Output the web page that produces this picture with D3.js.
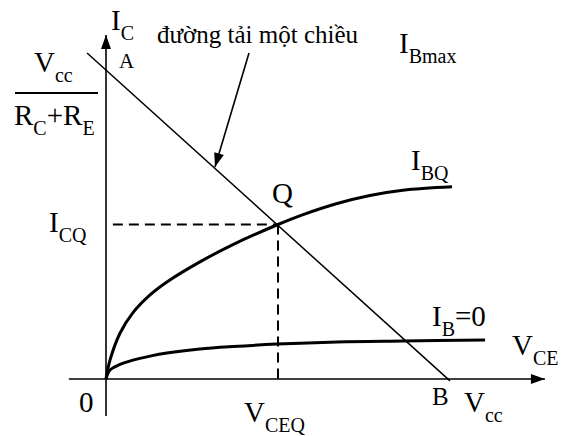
<!DOCTYPE html>
<html><head><meta charset="utf-8">
<script src="https://cdn.jsdelivr.net/npm/d3@7"></script>
<style>
@font-face { font-family: "ChartSerif"; src: local("Liberation Serif"), local("LiberationSerif"), local("Liberation Serif Regular"), local("LiberationSerif-Regular"), local("Times New Roman"); }
</style>
</head><body style="margin:0">
<script>
// data (arbitrary units: VCE 0..Vcc=10, IC 0..Vcc/(Rc+Re)=10)
const ibqVce = [0, 0.116, 0.41, 0.78, 1.28, 1.77, 2.73, 3.69, 5.0, 5.73, 6.72, 7.67, 8.63, 10.06];
const ibqIc  = [0, 0.61, 1.49, 2.14, 2.72, 3.14, 3.79, 4.35, 5.0, 5.32, 5.68, 5.94, 6.11, 6.22];
const ib0Vce = [0, 0.116, 0.41, 0.78, 1.28, 1.77, 2.73, 3.69, 4.97, 6.72, 8.63, 11.02];
const ib0Ic  = [0, 0.29, 0.47, 0.61, 0.74, 0.84, 0.97, 1.05, 1.13, 1.20, 1.23, 1.26];
const loadVce = [-0.55, 10.0];
const loadIc  = [10.55, -0.06];
const qPoint = [5.0, 5.0];
const xAxisExtent = [-1.08, 12.76];
const yAxisExtent = [-1.2, 11.13];

const W = 563, H = 436;
const x = d3.scaleLinear().domain([0, 10]).range([106, 450]);
const y = d3.scaleLinear().domain([0, 10]).range([379, 70]);
const FONT = '"Liberation Serif", ChartSerif, "Times New Roman", serif';

const svg = d3.select("body").append("svg").attr("width", W).attr("height", H);

function txt(px, py, size){
  return svg.append("text").attr("x",px).attr("y",py).attr("font-size",size)
    .style("font-family", FONT);
}
function lab(px, py, main, sub, size, subSize, rest){
  const t = txt(px, py, size);
  t.append("tspan").text(main);
  if (sub){ t.append("tspan").attr("font-size",subSize).attr("dy",10).text(sub); }
  if (rest){ t.append("tspan").attr("dy",-10).text(rest); }
  return t;
}
const M = 29, S = 20;
lab(111, 30, "I", "C", M, S);
lab(119, 68, "A", null, 21);
txt(157, 43, 25).text("đường tải một chiều");
lab(399, 53, "I", "Bmax", M, S);
lab(34, 72, "V", "cc", M, S);
const den = txt(14, 125, M);
den.append("tspan").text("R");
den.append("tspan").attr("font-size",S).attr("dy",10).text("C");
den.append("tspan").attr("dy",-10).text("+R");
den.append("tspan").attr("font-size",S).attr("dy",10).text("E");
lab(49, 232, "I", "CQ", M, S);
txt(272, 203, M).text("Q");
lab(411, 170, "I", "BQ", M, S);
lab(432, 326, "I", "B", M, S, "=0");
lab(512, 355, "V", "CE", M, S);
txt(432, 405, 25).text("B");
lab(464, 412, "V", "cc", M, S);
txt(79, 412, M).text("0");
lab(244, 422, "V", "CEQ", M, S);

// arrow helper (line + filled triangle head, no markers)
function arrow(x1, y1, x2, y2, w, headLen, headW){
  svg.append("line").attr("x1",x1).attr("y1",y1).attr("x2",x2).attr("y2",y2)
    .attr("stroke","#000").attr("stroke-width",w);
  const a = Math.atan2(y2-y1, x2-x1);
  const bx = x2 - headLen*Math.cos(a), by = y2 - headLen*Math.sin(a);
  const px = -Math.sin(a)*headW/2, py = Math.cos(a)*headW/2;
  svg.append("path").attr("d", `M${x2},${y2}L${bx+px},${by+py}L${bx-px},${by-py}Z`).attr("fill","#000");
}

// fraction bar
svg.append("line").attr("x1",15).attr("y1",93).attr("x2",98).attr("y2",93).attr("stroke","#000").attr("stroke-width",2);

// axes
arrow(x(xAxisExtent[0]), y(0), x(xAxisExtent[1]), y(0), 1.6, 14, 10);
arrow(x(0), y(yAxisExtent[0]), x(0), y(yAxisExtent[1]), 1.6, 14, 10);

// load line
svg.append("line").attr("x1",x(loadVce[0])).attr("y1",y(loadIc[0])).attr("x2",x(loadVce[1])).attr("y2",y(loadIc[1]))
  .attr("stroke","#000").attr("stroke-width",1.5);

// dashed lines
svg.append("line").attr("x1",x(0.2)).attr("y1",y(qPoint[1])).attr("x2",x(qPoint[0])).attr("y2",y(qPoint[1]))
  .attr("stroke","#000").attr("stroke-width",2).attr("stroke-dasharray","10,6");
svg.append("line").attr("x1",x(qPoint[0])).attr("y1",y(qPoint[1])).attr("x2",x(qPoint[0])).attr("y2",y(0))
  .attr("stroke","#000").attr("stroke-width",2).attr("stroke-dasharray","10,6");

// curves
const lineC = d3.line().x(d=>x(d[0])).y(d=>y(d[1])).curve(d3.curveCatmullRom.alpha(0.5));
svg.append("path").attr("d", lineC(ibqVce.map((v,i)=>[v, ibqIc[i]]))).attr("fill","none").attr("stroke","#000").attr("stroke-width",3);
svg.append("path").attr("d", lineC(ib0Vce.map((v,i)=>[v, ib0Ic[i]]))).attr("fill","none").attr("stroke","#000").attr("stroke-width",3);

// pointer arrow
arrow(249, 53, 215, 167, 1.6, 14, 10);
</script></body></html>
